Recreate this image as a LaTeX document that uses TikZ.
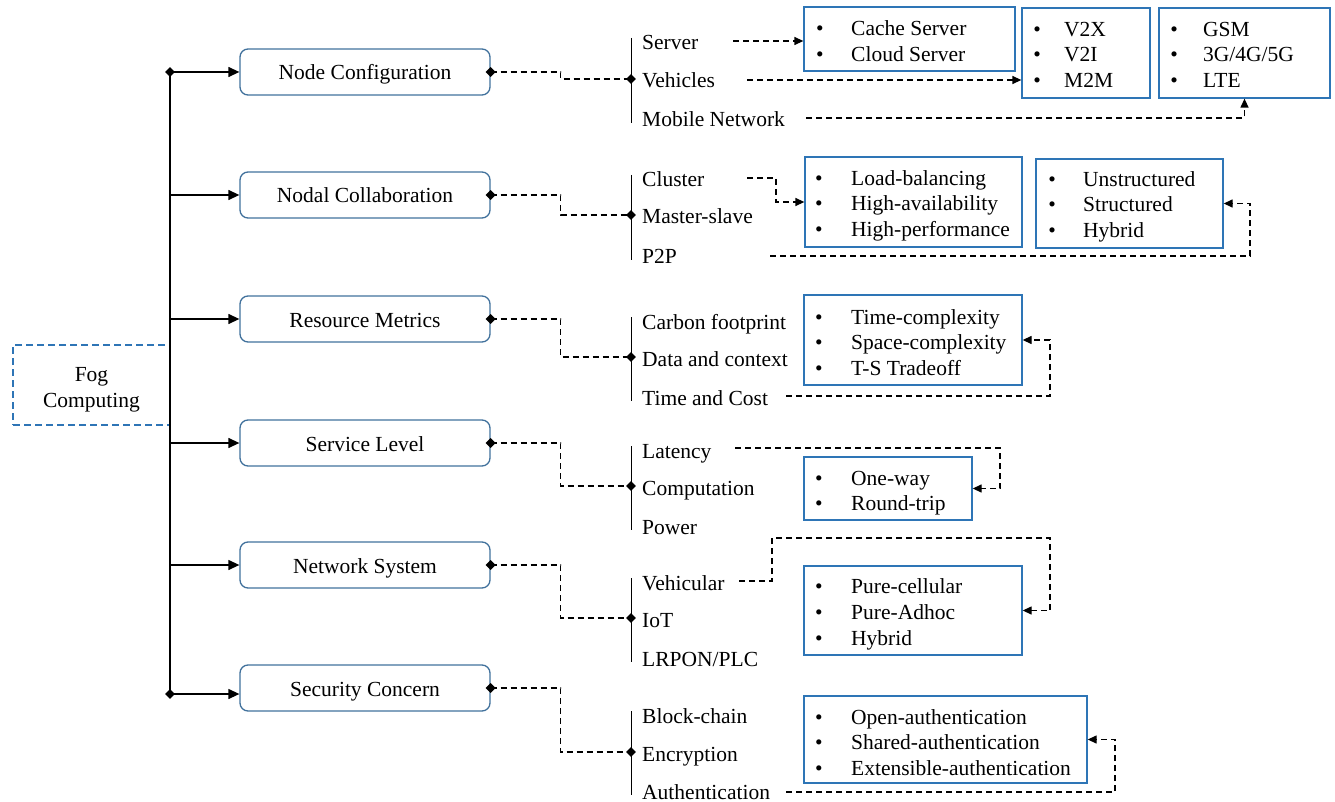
\documentclass[tikz,border=0pt]{standalone}
\usepackage{fontspec}
\setmainfont{Liberation Serif}
\usetikzlibrary{arrows.meta,shapes.geometric,fit}
\definecolor{catblue}{RGB}{65,113,156}
\definecolor{listblue}{RGB}{46,117,182}
\tikzset{
  txt/.style={font=\fontsize{21.5pt}{26pt}\selectfont, inner sep=0pt, text height=18pt, text depth=2pt},
  item/.style={txt, anchor=west},
  catbox/.style={txt, draw=catblue, line width=1.3pt, rounded corners=8pt,
    minimum width=250pt, minimum height=46pt},
  listbox/.style={draw=listblue, line width=1.3pt, inner sep=0pt},
  fogbox/.style={draw=listblue, line width=1.3pt, dash pattern=on 7pt off 4pt,
    minimum width=157pt, minimum height=80pt},
  fogtxt/.style={font=\fontsize{21.5pt}{26pt}\selectfont, align=center, inner sep=0pt},
  dl/.style={line width=1.3pt, dash pattern=on 6pt off 4pt},
  dla/.style={dl, -{Triangle[length=9pt,width=8pt]}},
  sla/.style={line width=1.3pt, -{Triangle[length=11pt,width=10pt]}},
  dmd/.style={diamond, fill=black, inner sep=0pt, minimum width=10pt, minimum height=10pt},
  bracket/.style={line width=0.9pt},
}
% bullet x, text x, list of y/label pairs
\newcommand\listitems[3]{%
  \foreach \yy/\lbl in {#3} {
    \node[txt] (bul-#1-\yy) at (#1,\yy) {\textbullet};
    \node[item] (lbl-#1-\yy) at (#2,\yy) {\lbl};
  }}
\begin{document}
\begin{tikzpicture}[x=1pt,y=-1pt]
\path[use as bounding box] (0,0) rectangle (1335,802);

% root
\node[fogbox] (fog) at (91.5,385) {};
\node[fogtxt] (fogl) at (91.5,390) {Fog\\Computing};

% trunk
\coordinate (j1) at (170,72);
\coordinate (j2) at (170,195);
\coordinate (j3) at (170,319);
\coordinate (j4) at (170,443);
\coordinate (j5) at (170,565);
\coordinate (j6) at (170,694);
\draw[line width=1.3pt] (j1) -- (j6);
\node[dmd] (jd1) at (j1) {};
\node[dmd] (jd6) at (j6) {};

% categories
\node[catbox] (cat1) at (365,72) {Node Configuration};
\node[catbox] (cat2) at (365,195) {Nodal Collaboration};
\node[catbox] (cat3) at (365,319) {Resource Metrics};
\node[catbox] (cat4) at (365,443) {Service Level};
\node[catbox] (cat5) at (365,565) {Network System};
\node[catbox] (cat6) at (365,688) {Security Concern};

\draw[sla] (j1) -- (cat1.west);
\draw[sla] (j2) -- (cat2.west);
\draw[sla] (j3) -- (cat3.west);
\draw[sla] (j4) -- (cat4.west);
\draw[sla] (j5) -- (cat5.west);
\draw[sla] (j6) -- (j6 -| cat6.west);

% group junctions
\coordinate (g1) at (631,79);
\coordinate (g2) at (631,215);
\coordinate (g3) at (631,357);
\coordinate (g4) at (631,486);
\coordinate (g5) at (631,618);
\coordinate (g6) at (631,752);
\foreach \i in {1,...,6} {
  \draw[dl] (cat\i.east) -- ++(70,0) |- (g\i);
  \node[dmd] (cd\i) at (cat\i.east) {};
  \node[dmd] (gd\i) at (g\i) {};
}

% brackets
\draw[bracket] (631,38) -- (631,123);
\draw[bracket] (631,175) -- (631,260);
\draw[bracket] (631,317) -- (631,401);
\draw[bracket] (631,446) -- (631,530);
\draw[bracket] (631,578) -- (631,662);
\draw[bracket] (631,711) -- (631,795);

% sub-items
\node[item] (server) at (642,42) {Server};
\node[item] (vehicles) at (642,80) {Vehicles};
\node[item] (mobile) at (642,119) {Mobile Network};
\node[item] (cluster) at (642,179) {Cluster};
\node[item] (master) at (642,216) {Master-slave};
\node[item] (p2p) at (642,256) {P2P};
\node[item] (carbon) at (642,321) {Carbon footprint};
\node[item] (data) at (642,358) {Data and context};
\node[item] (timecost) at (642,397) {Time and Cost};
\node[item] (latency) at (642,450) {Latency};
\node[item] (comput) at (642,487) {Computation};
\node[item] (power) at (642,526) {Power};
\node[item] (vehic) at (642,582) {Vehicular};
\node[item] (iot) at (642,619) {IoT};
\node[item] (lrpon) at (642,658) {LRPON/PLC};
\node[item] (block) at (642,715) {Block-chain};
\node[item] (encr) at (642,753) {Encryption};
\node[item] (auth) at (642,791) {Authentication};

% detail lists
\node[listbox, fit={(804,7) (1015,71)}] (cache) {};
\listitems{820}{851}{28/Cache Server, 54/Cloud Server}
\node[listbox, fit={(1022,8) (1150,98)}] (v2x) {};
\listitems{1037}{1064}{29/V2X, 54/V2I, 80/M2M}
\node[listbox, fit={(1159,8) (1330,98)}] (gsm) {};
\listitems{1174}{1203}{29/GSM, 54/{3G/4G/5G}, 80/LTE}
\node[listbox, fit={(805,157) (1022,247)}] (load) {};
\listitems{819}{851}{178/Load-balancing, 203/High-availability, 229/High-performance}
\node[listbox, fit={(1036,159) (1223,248)}] (unstr) {};
\listitems{1052}{1083}{179/Unstructured, 204/Structured, 230/Hybrid}
\node[listbox, fit={(804,295) (1022,385)}] (tbox) {};
\listitems{819}{851}{316/Time-complexity, 341/Space-complexity, 367/T-S Tradeoff}
\node[listbox, fit={(804,457) (972,520)}] (oneway) {};
\listitems{819}{851}{477/One-way, 502/Round-trip}
\node[listbox, fit={(804,566) (1022,655)}] (pure) {};
\listitems{819}{851}{585/Pure-cellular, 611/Pure-Adhoc, 637/Hybrid}
\node[listbox, fit={(804,696) (1087,783)}] (open) {};
\listitems{819}{851}{716/Open-authentication, 741/Shared-authentication, 767/Extensible-authentication}

% links from sub-items to lists
\coordinate (srvS) at (733,41);
\coordinate (vclS) at (747,80);
\coordinate (mobS) at (806,118);
\coordinate (cluS) at (747,178);
\coordinate (p2pS) at (770,256);
\coordinate (tcS) at (786,396);
\coordinate (latS) at (735,448);
\coordinate (vehS) at (739,581);
\coordinate (authS) at (786,792);
\draw[dla] (srvS) -- (srvS -| cache.west);
\draw[dla] (vclS) -- (vclS -| v2x.west);
\draw[dla] (mobS) -| (gsm.south);
\draw[dla] (cluS) -- ++(29,0) |- (load.west);
\draw[dla] (p2pS) -- ++(480,0) |- (unstr.east);
\draw[dla] (tcS) -- ++(264,0) |- (tbox.east);
\draw[dla] (latS) -- ++(265,0) |- (oneway.east);
\draw[dla] (vehS) -- ++(33,0) -- ++(0,-43) -- ++(278,0) |- (pure.east);
\draw[dla] (authS) -- ++(329,0) |- (open.east);
\end{tikzpicture}
\end{document}
